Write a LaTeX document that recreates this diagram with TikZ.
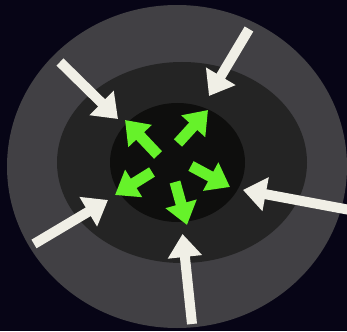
\documentclass[tikz,border=0pt]{standalone}
\usetikzlibrary{arrows.meta,shapes.geometric}
\definecolor{bgc}{RGB}{7,5,22}
\definecolor{ringA}{RGB}{65,64,68}
\definecolor{ringB}{RGB}{36,36,36}
\definecolor{ringC}{RGB}{14,14,13}
\definecolor{pushc}{RGB}{240,239,230}
\definecolor{spreadc}{RGB}{102,242,42}
\tikzset{
  disc/.style={ellipse, inner sep=0pt, draw=none},
  pusharrow/.style={draw=pushc, line width=10pt, -{Triangle[width=33pt,length=23pt]}},
  spreadarrow/.style={draw=spreadc, line width=11pt, -{Triangle[width=31pt,length=22pt]}}
}
\begin{document}
\begin{tikzpicture}[x=1pt,y=-1pt]
\fill[bgc] (0,0) rectangle (347,331);
\useasboundingbox (0,0) rectangle (347,331);
\node[disc, fill=ringA, minimum width=340pt, minimum height=323pt] (outer) at (177,166.5) {};
\node[disc, fill=ringB, minimum width=250pt, minimum height=201pt] (middle) at (182,162.5) {};
\node[disc, fill=ringC, minimum width=135pt, minimum height=119pt] (inner) at (177.5,162.5) {};
% white arrows pushing inward
\coordinate (t1) at (60,62);   \coordinate (h1) at (118,119);
\coordinate (t2) at (249,29);  \coordinate (h2) at (209,96);
\coordinate (t3) at (350,210); \coordinate (h3) at (243,190);
\coordinate (t4) at (192,324); \coordinate (h4) at (182.5,234);
\coordinate (t5) at (34,244);  \coordinate (h5) at (108,200);
\draw[pusharrow] (t1) -- (h1);
\draw[pusharrow] (t2) -- (h2);
\draw[pusharrow] (t3) -- (h3);
\draw[pusharrow] (t4) -- (h4);
\draw[pusharrow] (t5) -- (h5);
% green arrows spreading outward
\coordinate (g1) at (158,155); \coordinate (k1) at (125,120);
\coordinate (g2) at (178,143); \coordinate (k2) at (208,110);
\coordinate (g3) at (191,166); \coordinate (k3) at (230,187);
\coordinate (g4) at (175,182); \coordinate (k4) at (187,225);
\coordinate (g5) at (152,172); \coordinate (k5) at (115,195);
\draw[spreadarrow] (g1) -- (k1);
\draw[spreadarrow] (g2) -- (k2);
\draw[spreadarrow] (g3) -- (k3);
\draw[spreadarrow] (g4) -- (k4);
\draw[spreadarrow] (g5) -- (k5);
\end{tikzpicture}
\end{document}
